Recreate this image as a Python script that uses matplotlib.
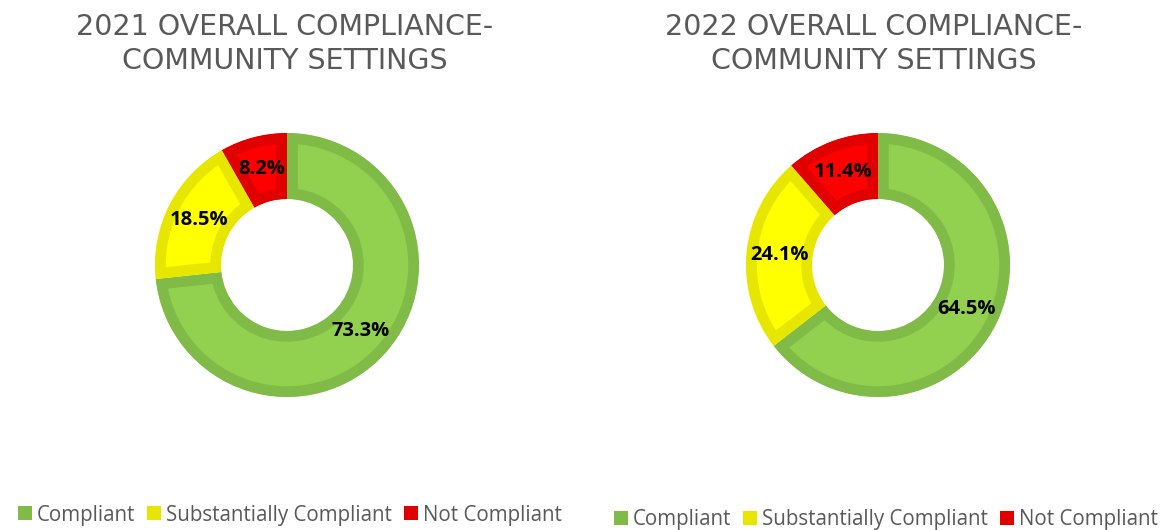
import numpy as np
import matplotlib.pyplot as plt
from matplotlib.patches import Patch

# data
categories = ['Compliant', 'Substantially Compliant', 'Not Compliant']
share_2021 = [73.3, 18.5, 8.2]
share_2022 = [64.5, 24.1, 11.4]
titles = ['2021 OVERALL COMPLIANCE-\nCOMMUNITY SETTINGS',
          '2022 OVERALL COMPLIANCE-\nCOMMUNITY SETTINGS']

fill_cols = ['#92D050', '#FFFF00', '#FF0000']
edge_cols = ['#80BB48', '#E6E600', '#E00000']
grey = '#595959'

W, H = 1171, 530
fig = plt.figure(figsize=(W/100, H/100), dpi=100)

def donut(cx, cy, r, vals, title, tx, ty):
    ax = fig.add_axes([(cx-r)/W, (H-cy-r)/H, 2*r/W, 2*r/H])
    wedges, texts = ax.pie(vals, colors=fill_cols, startangle=90, counterclock=False,
                           radius=1, wedgeprops=dict(width=0.5))
    # inner stroke: thick edge clipped to the wedge itself
    for w, ec in zip(wedges, edge_cols):
        w.set_edgecolor(ec)
        w.set_linewidth(15.5)
        w.set_clip_on(True)
        w.set_clip_path(w)
    # labels at mid ring
    ang = 90 - np.cumsum([0] + vals[:-1]) * 3.6 - np.array(vals) * 1.8
    for a, v in zip(ang, vals):
        ax.text(0.75*np.cos(np.radians(a)), 0.75*np.sin(np.radians(a)), f'{v:.1f}%',
                ha='center', va='center', fontsize=14.5, fontweight='bold',
                family='Open Sans', color='black')
    ax.set_xlim(-1, 1)
    ax.set_ylim(-1, 1)
    ax.axis('off')
    fig.text(tx/W, 1 - ty/H, title, ha='center', va='center', fontsize=20.5,
             family='DejaVu Sans', color=grey, linespacing=1.3)

donut(287, 265, 132, share_2021, titles[0], 285, 44)
donut(878, 265, 132, share_2022, titles[1], 874, 44)

handles = [Patch(facecolor=c, edgecolor='none') for c in edge_cols]
for lx, ly in [(290, 515), (886, 520)]:
    fig.legend(handles, categories, loc='center', bbox_to_anchor=(lx/W, 1 - ly/H),
               ncol=3, frameon=False, prop=dict(family='Open Sans', size=14.8),
               labelcolor=grey, handlelength=0.68, handleheight=0.68,
               handletextpad=0.25, columnspacing=0.58, borderpad=0)

plt.savefig('out.png', dpi=100)
